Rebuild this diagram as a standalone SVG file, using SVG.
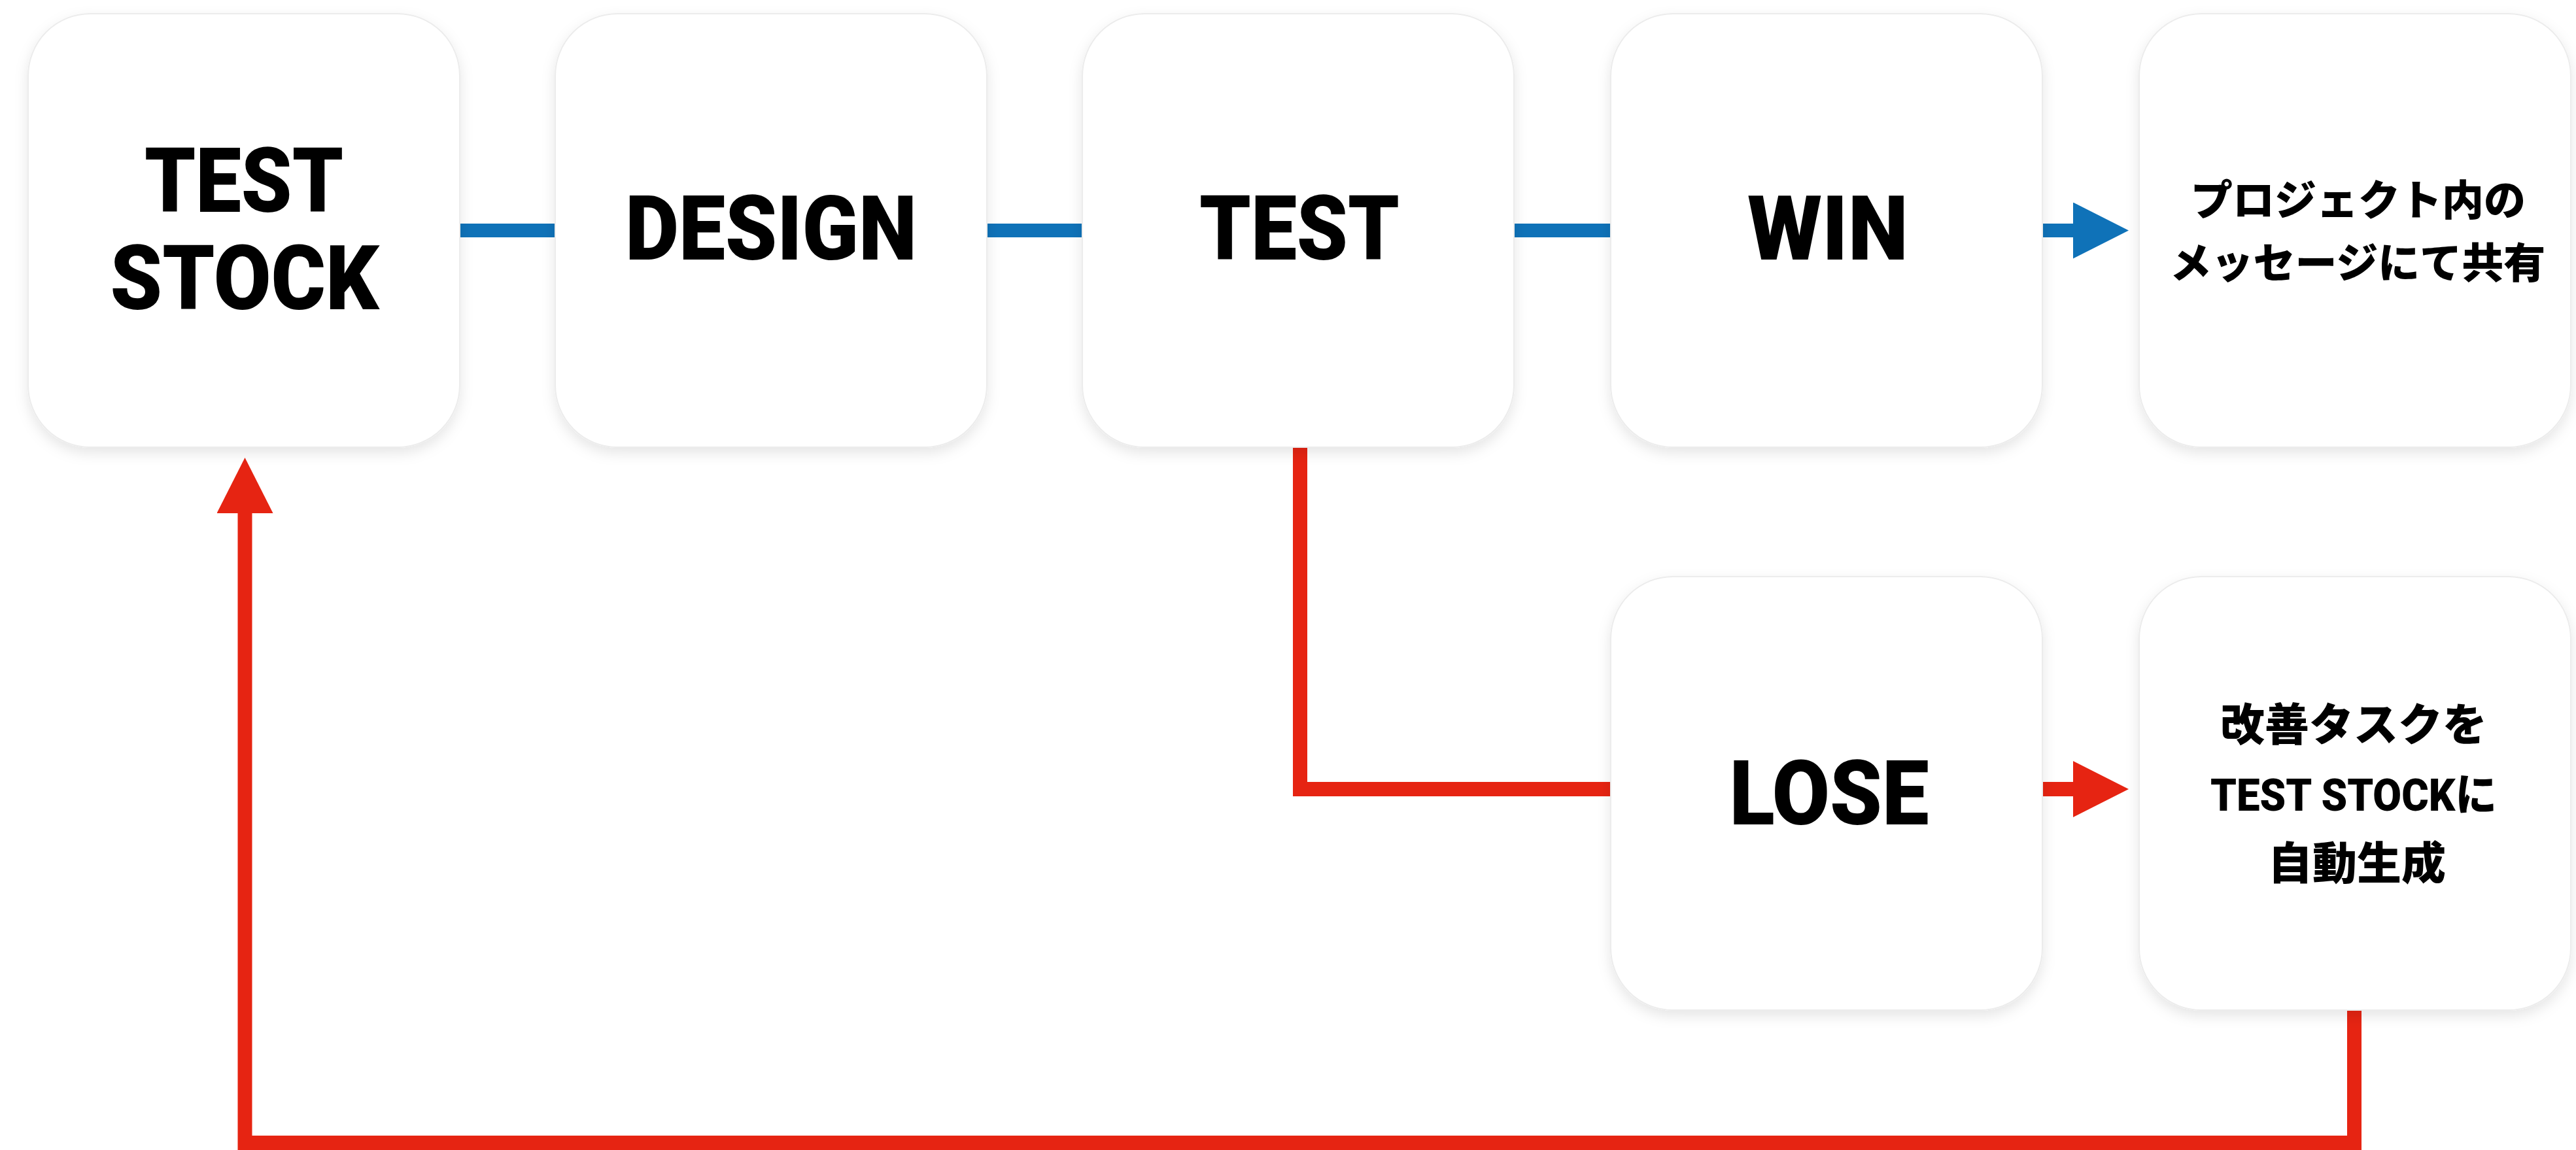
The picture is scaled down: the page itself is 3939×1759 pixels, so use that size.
<svg xmlns="http://www.w3.org/2000/svg" width="3939" height="1759" viewBox="0 0 3939 1759">
  <style>
    .box { fill: #ffffff; stroke: #ececec; stroke-width: 2; filter: url(#shadow); }
    .big { font-family: Roboto, "Liberation Sans", sans-serif; font-weight: 900; font-size: 138px; fill: #000; text-anchor: middle; }
    .jp { font-family: "Noto Sans CJK JP", sans-serif; font-weight: 900; fill: #000; text-anchor: middle; }
    .mix { font-family: Roboto, "Noto Sans CJK JP", sans-serif; font-weight: 900; fill: #000; text-anchor: middle; }
    .blue { fill: none; stroke: #0f72b8; stroke-width: 21; }
    .red { fill: none; stroke: #e62412; stroke-width: 22; stroke-linejoin: miter; }
  </style>
  <defs>
    <filter id="shadow" x="-10%" y="-10%" width="120%" height="125%">
      <feDropShadow dx="0" dy="8" stdDeviation="10" flood-color="#000" flood-opacity="0.10"/>
    </filter>
    <marker id="ahBlue" markerUnits="userSpaceOnUse" markerWidth="86" markerHeight="86" refX="0" refY="43" orient="auto">
      <path d="M0,0 L85,43 L0,86 Z" fill="#0f72b8"/>
    </marker>
    <marker id="ahRed" markerUnits="userSpaceOnUse" markerWidth="86" markerHeight="86" refX="0" refY="43" orient="auto">
      <path d="M0,0 L85,43 L0,86 Z" fill="#e62412"/>
    </marker>
  </defs>
  <rect x="0" y="0" width="3939" height="1759" fill="#ffffff"/>

  <g id="connectors">
    <line class="blue" x1="700" y1="352.5" x2="852" y2="352.5"/>
    <line class="blue" x1="1506" y1="352.5" x2="1658" y2="352.5"/>
    <line class="blue" x1="2312" y1="352.5" x2="2466" y2="352.5"/>
    <line class="blue" x1="3120" y1="352.5" x2="3170" y2="352.5" marker-end="url(#ahBlue)"/>
    <path class="red" d="M1988,684 L1988,1207 L2466,1207"/>
    <line class="red" x1="3120" y1="1207" x2="3170" y2="1207" marker-end="url(#ahRed)"/>
    <path class="red" d="M3600,1545 L3600,1748 L374.5,1748 L374.5,785" marker-end="url(#ahRed)"/>
  </g>

  <g id="node-test-stock">
    <rect class="box" x="43" y="21" width="660" height="663" rx="95" ry="95"/>
    <text class="big" x="373" y="324" textLength="304" lengthAdjust="spacingAndGlyphs">TEST</text>
    <text class="big" x="374" y="473" textLength="411" lengthAdjust="spacingAndGlyphs">STOCK</text>
  </g>
  <g id="node-design">
    <rect class="box" x="849" y="21" width="660" height="663" rx="95" ry="95"/>
    <text class="big" x="1179" y="397" textLength="446" lengthAdjust="spacingAndGlyphs">DESIGN</text>
  </g>
  <g id="node-test">
    <rect class="box" x="1655" y="21" width="660" height="663" rx="95" ry="95"/>
    <text class="big" x="1987" y="397" textLength="306" lengthAdjust="spacingAndGlyphs">TEST</text>
  </g>
  <g id="node-win">
    <rect class="box" x="2463" y="21" width="660" height="663" rx="95" ry="95"/>
    <text class="big" x="2795" y="397" textLength="246" lengthAdjust="spacingAndGlyphs">WIN</text>
  </g>
  <g id="node-share">
    <rect class="box" x="3271" y="21" width="660" height="663" rx="95" ry="95"/>
    <text class="jp" x="3606" y="329" font-size="64">プロジェクト内の</text>
    <text class="jp" x="3605" y="425" font-size="64">メッセージにて共有</text>
  </g>
  <g id="node-lose">
    <rect class="box" x="2463" y="882" width="660" height="663" rx="95" ry="95"/>
    <text class="big" x="2797" y="1261" textLength="305" lengthAdjust="spacingAndGlyphs">LOSE</text>
  </g>
  <g id="node-auto">
    <rect class="box" x="3271" y="882" width="660" height="663" rx="95" ry="95"/>
    <text class="jp" x="3599" y="1133" font-size="68">改善タスクを</text>
    <text class="mix" x="3599" y="1240" font-size="68" textLength="438" lengthAdjust="spacingAndGlyphs">TEST STOCKに</text>
    <text class="jp" x="3604" y="1345" font-size="68">自動生成</text>
  </g>
</svg>
